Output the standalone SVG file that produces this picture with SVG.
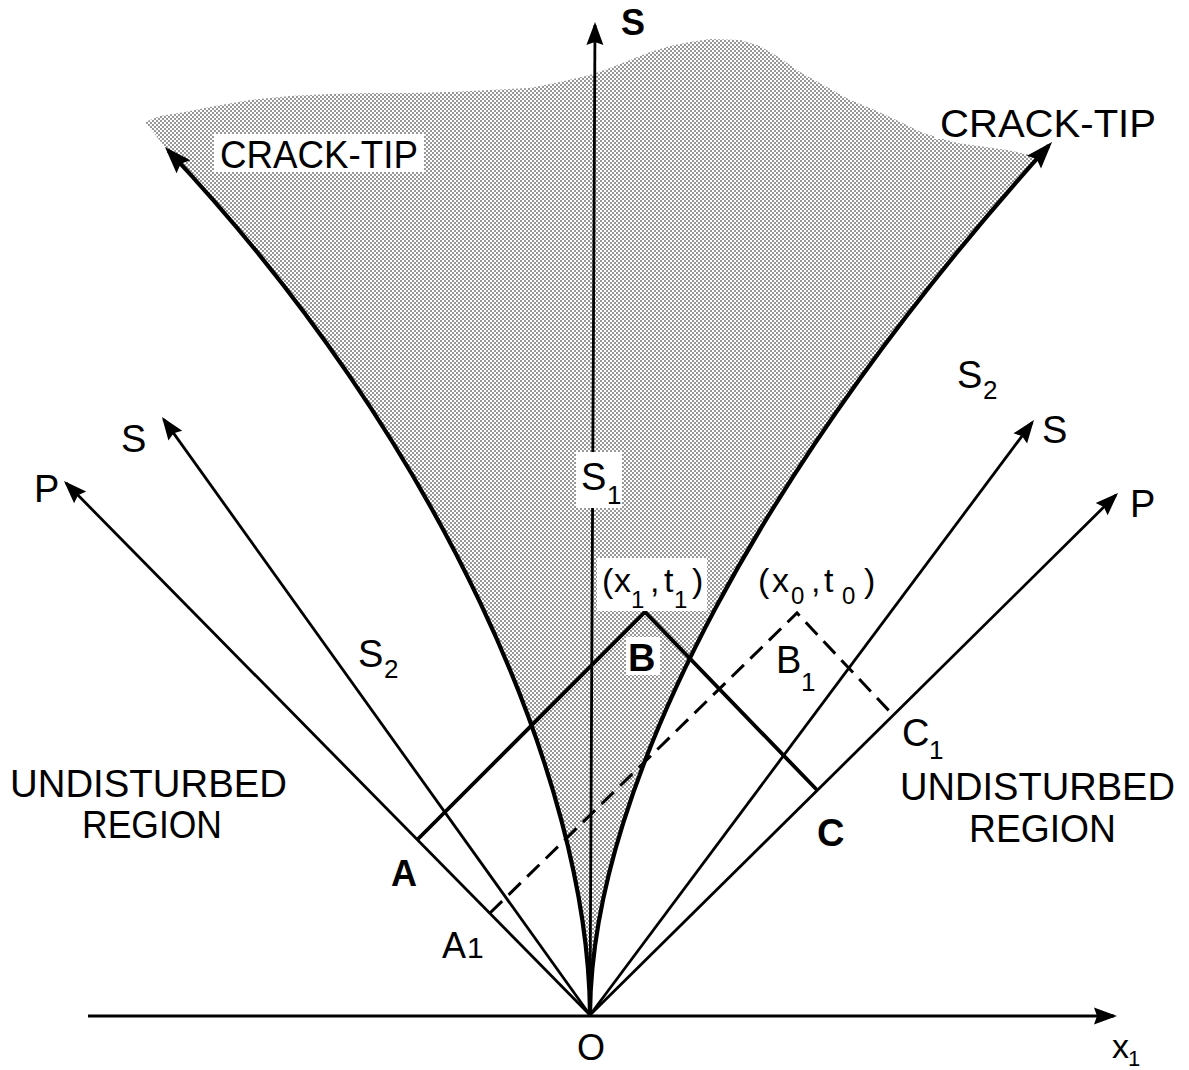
<svg xmlns="http://www.w3.org/2000/svg" width="1189" height="1070" viewBox="0 0 1189 1070">
<style>
.ln{fill:none;stroke:#000;stroke-linecap:butt;stroke-linejoin:miter}
.thin{stroke-width:2.8}
.med{stroke-width:3.8}
.thick{stroke-width:4.2}
.dash{stroke-width:3;stroke-dasharray:17 9}
text{font-family:"Liberation Sans",Arial,Helvetica,sans-serif;fill:#000}
.f38{font-size:38px}
.f36{font-size:36px}
.f34{font-size:34px}
.f30{font-size:30px}
.f26{font-size:26px}
.f24{font-size:24px}
.f22{font-size:22px}
.b{font-weight:bold}
.ko{fill:#fff}
</style>
<defs>
<pattern id="stip" patternUnits="userSpaceOnUse" width="4" height="4">
<circle cx="1" cy="1" r="0.78" fill="#000"/>
<circle cx="3" cy="3" r="0.78" fill="#000"/>
</pattern>
<marker id="ah" markerUnits="userSpaceOnUse" markerWidth="30" markerHeight="20" viewBox="-26 -10 30 20" refX="-3" refY="0" orient="auto">
<path d="M0,0 L-23,-8.5 L-20,0 L-23,8.5 Z" fill="#000"/>
</marker>
<marker id="ahT" markerUnits="userSpaceOnUse" markerWidth="34" markerHeight="24" viewBox="-30 -12 34 24" refX="-5" refY="0" orient="auto">
<path d="M0,0 L-27,-9.5 L-23,0 L-27,9.5 Z" fill="#000"/>
</marker>
</defs>
<rect x="0" y="0" width="1189" height="1070" fill="#fff"/>

<g id="crack-zone">
<path fill="url(#stip)" d="M590,1013 C588,780 440,440 165,147 L145,122 L160,116 L185,112 L215,106 L250,100 L290,96 L330,94 L370,93 L410,93 L450,92 L490,90 L530,88 L560,82 L590,75 L610,68 L630,60 L650,52 L670,46 L690,42 L710,39 L740,40 L760,46 L780,58 L800,72 L825,86 L850,100 L870,108 L890,117 L923,133 L957,143 L1007,150 L1035,156 L1052,142 C770,455 592,780 590,1013 Z"/>
</g>

<g id="connectors">
<path id="x-axis" class="ln thin" d="M88,1016 L1114,1016" marker-end="url(#ah)"/>
<path id="s-axis" class="ln thin" d="M590,1013 L595,25" marker-end="url(#ah)"/>
<path id="p-left" class="ln thin" d="M590,1015 L66.1,483.1" marker-end="url(#ah)"/>
<path id="s-left" class="ln thin" d="M590,1015 L163.7,419.4" marker-end="url(#ah)"/>
<path id="s-right" class="ln thin" d="M590,1015 L1032.2,422.4" marker-end="url(#ah)"/>
<path id="p-right" class="ln thin" d="M590,1015 L1115.9,495.1" marker-end="url(#ah)"/>
<path id="crack-left" class="ln thick" d="M590,1013 C588,780 440,440 168.4,150.6" marker-end="url(#ahT)"/>
<path id="crack-right" class="ln thick" d="M590,1013 C592,780 770,455 1048.7,145.7" marker-end="url(#ahT)"/>
<path id="abc" class="ln med" d="M417,840 L645,612 L817,790"/>
<path id="a1b1c1" class="ln dash" d="M490,913 L797,613 L893,715"/>
</g>

<g id="label-s-top"><text class="b f36" x="621" y="35">S</text></g>
<g id="label-crack-left"><rect class="ko" x="214" y="134" width="210" height="38"/><text class="f38" x="220" y="168" textLength="198" lengthAdjust="spacingAndGlyphs">CRACK-TIP</text></g>
<g id="label-crack-right"><rect class="ko" x="934" y="106" width="226" height="33"/><text class="f38" x="940" y="137" textLength="216" lengthAdjust="spacingAndGlyphs">CRACK-TIP</text></g>
<g id="label-s1"><rect class="ko" x="576" y="452" width="46" height="56"/><text class="f38" x="581" y="490">S</text><text class="f26" x="607" y="504">1</text></g>
<g id="label-s2-left"><text class="f38" x="358" y="667">S</text><text class="f26" x="384" y="678">2</text></g>
<g id="label-s2-right"><text class="f38" x="957" y="388">S</text><text class="f26" x="983" y="399">2</text></g>
<g id="label-s-left"><text class="f38" x="121" y="452">S</text></g>
<g id="label-p-left"><text class="f38" x="34" y="502">P</text></g>
<g id="label-s-right"><text class="f38" x="1042" y="443">S</text></g>
<g id="label-p-right"><text class="f38" x="1130" y="517">P</text></g>
<g id="label-x1t1"><rect class="ko" x="597" y="558" width="110" height="53"/>
<text class="f34"><tspan x="602" y="592">(</tspan><tspan x="614" y="592">x</tspan><tspan x="650" y="592">,</tspan><tspan x="664" y="592">t</tspan><tspan x="692" y="592">)</tspan></text>
<text class="f24"><tspan x="631" y="608">1</tspan><tspan x="674" y="608">1</tspan></text></g>
<g id="label-x0t0">
<text class="f34"><tspan x="758" y="592">(</tspan><tspan x="772" y="592">x</tspan><tspan x="811" y="592">,</tspan><tspan x="824" y="592">t</tspan><tspan x="864" y="592">)</tspan></text>
<text class="f24"><tspan x="791" y="604">0</tspan><tspan x="842" y="604">0</tspan></text></g>
<g id="label-b"><rect class="ko" x="626" y="637" width="34" height="38"/><text class="b f38" x="628" y="671">B</text></g>
<g id="label-b1"><text class="f38" x="776" y="673">B</text><text class="f26" x="801" y="691">1</text></g>
<g id="label-c"><text class="b f38" x="817" y="846">C</text></g>
<g id="label-c1"><text class="f38" x="902" y="746">C</text><text class="f26" x="929" y="759">1</text></g>
<g id="label-a"><text class="b f36" x="391" y="886">A</text></g>
<g id="label-a1"><text class="f36" x="442" y="958">A</text><text class="f30" x="467" y="958">1</text></g>
<g id="label-undisturbed-left"><text class="f38" x="10" y="797" textLength="277" lengthAdjust="spacingAndGlyphs">UNDISTURBED</text><text class="f38" x="82" y="838" textLength="140" lengthAdjust="spacingAndGlyphs">REGION</text></g>
<g id="label-undisturbed-right"><text class="f38" x="900" y="800" textLength="275" lengthAdjust="spacingAndGlyphs">UNDISTURBED</text><text class="f38" x="969" y="842" textLength="147" lengthAdjust="spacingAndGlyphs">REGION</text></g>
<g id="label-o"><text class="f36" x="577" y="1060">O</text></g>
<g id="label-x1"><text class="f34" x="1112" y="1058">x</text><text class="f22" x="1128" y="1066">1</text></g>
</svg>
